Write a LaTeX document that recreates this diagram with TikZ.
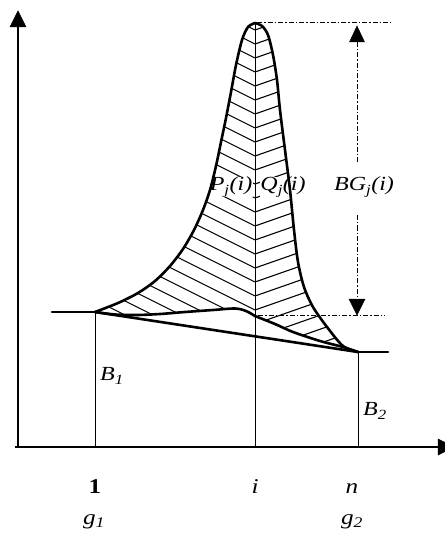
\documentclass[tikz,border=0pt]{standalone}
\usepackage{fontspec}
\setmainfont{Liberation Serif}
\newfontfamily\labfont[FakeStretch=1.2]{Liberation Serif}
\begin{document}
\begin{tikzpicture}[x=1pt,y=-1pt,
  curve/.style={line width=2.6pt, line join=round, line cap=round},
  thinline/.style={line width=1pt},
  axisline/.style={line width=1.4pt},
  hatch/.style={line width=1.1pt},
  dd/.style={line width=1pt, dash pattern=on 5pt off 2pt on 1.5pt off 2pt},
  lab/.style={font=\labfont\itshape\fontsize{20}{24}\selectfont, inner sep=0.5pt},
  blab/.style={font=\labfont\fontsize{21}{25}\selectfont, inner sep=0pt, anchor=base},
  head/.style={fill=black, draw=black, line width=0.5pt, line join=miter}]
\useasboundingbox (0,0) rectangle (444,534);
\coordinate (O) at (18,447);
\coordinate (Ytop) at (18,27);
\coordinate (Xend) at (438,447);
\coordinate (Xstart) at (15,447);
\coordinate (P1) at (95,312);
\coordinate (Pn) at (358,352);
\coordinate (Peak) at (255,23);
\coordinate (Mi) at (255,316);
% hatching left
\begin{scope}
  \clip plot[smooth] coordinates {(95,312) (118,303) (138,293) (155,281) (170,266) (183,249) (194,230) (203,210) (210,190) (216,166) (221,142) (226,118) (231,92) (236,65) (242,40) (248,27) (255,23)}
     -- plot[smooth] coordinates {(255,316) (246,311) (235,308.5) (213,310) (185,312) (160,314) (137,315) (115,314.5) (95,312)} -- cycle;
  \foreach \k in {0,...,30} {
    \pgfmathsetmacro\yk{30+14*\k}
    \draw[hatch] (255,\yk) -- ++(-180,-90);
  }
\end{scope}
% hatching right
\begin{scope}
  \clip plot[smooth] coordinates {(255,23) (262,26) (268,35) (273,55) (277,80) (280,110) (285,150) (290,190) (294,230) (298,262) (304,287) (313,307) (327,327) (343,346) (358,352)}
     -- plot[smooth] coordinates {(358,352) (343,347) (320,341) (293,332) (275,324) (255,316)} -- cycle;
  \foreach \k in {0,...,30} {
    \pgfmathsetmacro\yk{30+14*\k}
    \draw[hatch] (255,\yk) -- ++(120,-42);
  }
\end{scope}
% labels inside
\node[lab, fill=white] (pj) at (231,187) {P\textsubscript{j}(i)};
\node[lab, fill=white] (qj) at (283,187) {Q\textsubscript{j}(i)};
\node[lab, fill=white] (bg) at (364,187) {BG\textsubscript{j}(i)};
\node[lab] (b1) at (112,376) {B\textsubscript{1}};
\node[lab] (b2) at (375,411) {B\textsubscript{2}};
% vertical lines
\draw[thinline] (P1) -- (P1 |- O);
\draw[thinline] (Peak) -- (Peak |- O);
\draw[thinline] (Pn) -- (Pn |- O);
% axes
\draw[axisline] (O) -- (Ytop);
\draw[head] (18,11) -- (10,27) -- (26,27) -- cycle;
\draw[axisline] (Xstart) -- (Xend);
\draw[head] (454,447) -- (438,439) -- (438,455) -- cycle;
% curves
\draw[curve] (52,312) -- (P1);
\draw[curve] (Pn) -- (388,352);
\draw[curve] (P1) -- (Pn);
\draw[curve] plot[smooth] coordinates {(255,316) (246,311) (235,308.5) (213,310) (185,312) (160,314) (137,315) (115,314.5) (95,312)};
\draw[curve] plot[smooth] coordinates {(358,352) (343,347) (320,341) (293,332) (275,324) (255,316)};
\draw[curve] plot[smooth] coordinates {(95,312) (118,303) (138,293) (155,281) (170,266) (183,249) (194,230) (203,210) (210,190) (216,166) (221,142) (226,118) (231,92) (236,65) (242,40) (248,27) (255,23)};
\draw[curve] plot[smooth] coordinates {(255,23) (262,26) (268,35) (273,55) (277,80) (280,110) (285,150) (290,190) (294,230) (298,262) (304,287) (313,307) (327,327) (343,346) (358,352)};
% dimension
\draw[dd] (257,23) -- (391,23);
\draw[dd] (258,315) -- (385,315);
\draw[dd] (357,42) -- (357,163);
\draw[dd] (357,215) -- (357,299);
\draw[head] (357,26) -- (349.5,42) -- (364.5,42) -- cycle;
\draw[head] (357,315) -- (349,299) -- (365,299) -- cycle;
% axis labels
\node[blab] (l1) at (95,493) {\textbf{1}};
\node[blab] (li) at (255,493) {\itshape i};
\node[blab] (ln) at (352,493) {\itshape n};
\node[blab] (g1) at (94,524) {\itshape g\textsubscript{1}};
\node[blab] (g2) at (352,524) {\itshape g\textsubscript{2}};
\end{tikzpicture}
\end{document}
